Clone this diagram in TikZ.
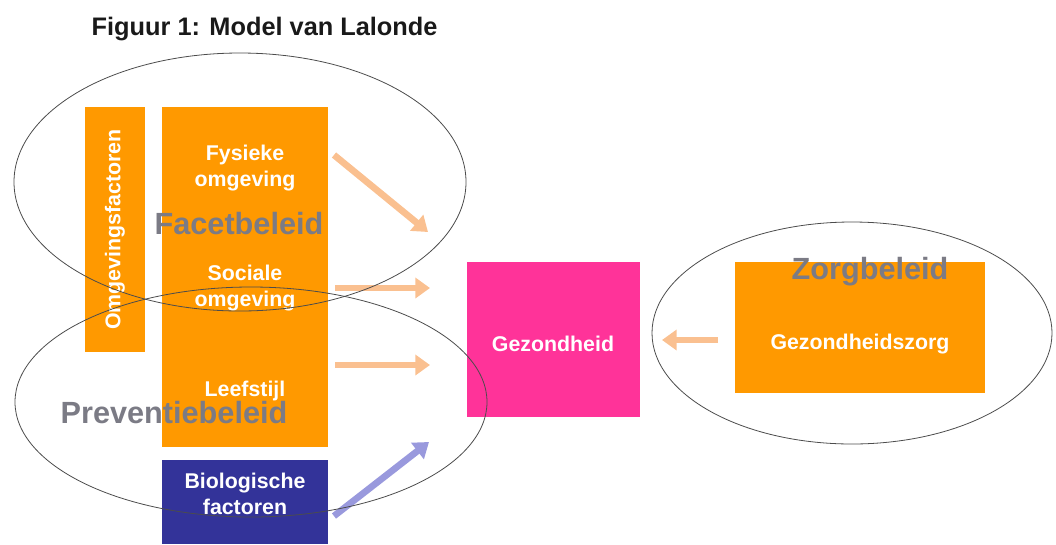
\documentclass[tikz,border=0pt]{standalone}
\usepackage{fontspec}
\setmainfont{Liberation Sans}
\usetikzlibrary{arrows.meta}
\definecolor{oranje}{HTML}{FF9900}
\definecolor{roze}{HTML}{FF3399}
\definecolor{donkerblauw}{HTML}{333399}
\definecolor{lichtoranje}{HTML}{FAC090}
\definecolor{lichtblauw}{HTML}{9999DD}
\definecolor{grijs}{HTML}{7B7B85}
\tikzset{
    blok/.style={rectangle, inner sep=0pt, draw=none},
    wit/.style={text=white, align=center, font=\bfseries\fontsize{16}{19.5}\selectfont},
    beleid/.style={text=grijs, font=\bfseries\fontsize{23}{27}\selectfont},
    pijl/.style={line width=5pt, draw=lichtoranje, -{Triangle[length=11pt,width=15pt]}},
    ovaal/.style={draw=black!70, line width=0.6pt},
  }
\begin{document}
\begin{tikzpicture}[x=0.75pt,y=-0.75pt]
				  %maten in pixels van het origineel
				  \useasboundingbox (0,0) rectangle (1056,544);
				  \node[anchor=base west, font=\bfseries\fontsize{19}{23}\selectfont, text=black!90] (titel) at (87,35) {Figuur 1: Model van Lalonde};

				  %blokken
				  \node[blok, fill=oranje, minimum width=45pt, minimum height=183.75pt] (omg) at (115,229.5) {};
				  \node[blok, fill=oranje, minimum width=124.5pt, minimum height=255pt] (kolom) at (245,277) {};
				  \node[blok, fill=donkerblauw, minimum width=124.5pt, minimum height=63pt] (bio) at (245,502) {};
				  \node[blok, fill=roze, minimum width=129.75pt, minimum height=116.25pt] (gez) at (553.5,339.5) {};
				  \node[blok, fill=oranje, minimum width=187.5pt, minimum height=98.25pt] (zorg) at (860,327.5) {};

				  %teksten
				  \node[wit, rotate=90] (omgt) at (omg) {Omgevingsfactoren};
				  \node[wit] (fysiek) at (245,168) {Fysieke\\omgeving};
				  \node[wit] (sociaal) at (245,288) {Sociale\\omgeving};
				  \node[wit] (leefstijl) at (245,391) {Leefstijl};
				  \node[wit] (biot) at (245,494) {Biologische\\factoren};
				  \node[wit] (gezt) at (553,344) {Gezondheid};
				  \node[wit] (zorgt) at (860,344) {Gezondheidszorg};

				  %pijlen
				  \coordinate (p1) at (334,155);
				  \coordinate (q1) at (428,232);
				  \coordinate (p2) at (335,288);
				  \coordinate (q2) at (430,288);
				  \coordinate (p3) at (335,365);
				  \coordinate (q3) at (430,365);
				  \coordinate (p4) at (334,516);
				  \coordinate (q4) at (429,442);
				  \coordinate (p5) at (718,340);
				  \coordinate (q5) at (662,340);
				  \draw[pijl] (p1) -- (q1);
				  \draw[pijl] (p2) -- (q2);
				  \draw[pijl] (p3) -- (q3);
				  \draw[pijl, draw=lichtblauw] (p4) -- (q4);
				  \draw[pijl] (p5) -- (q5);

				  %beleidsvelden
				  \draw[ovaal] (240,182) ellipse [x radius=226, y radius=129];
				  \draw[ovaal] (251,402) ellipse [x radius=236, y radius=115];
				  \draw[ovaal] (852,333) ellipse [x radius=200, y radius=111];
				  \node[beleid] (facet) at (239,224) {Facetbeleid};
				  \node[beleid] (preventie) at (174,413) {Preventiebeleid};
				  \node[beleid] (zorgb) at (870,272) {Zorgbeleid};
\end{tikzpicture}
\end{document}
